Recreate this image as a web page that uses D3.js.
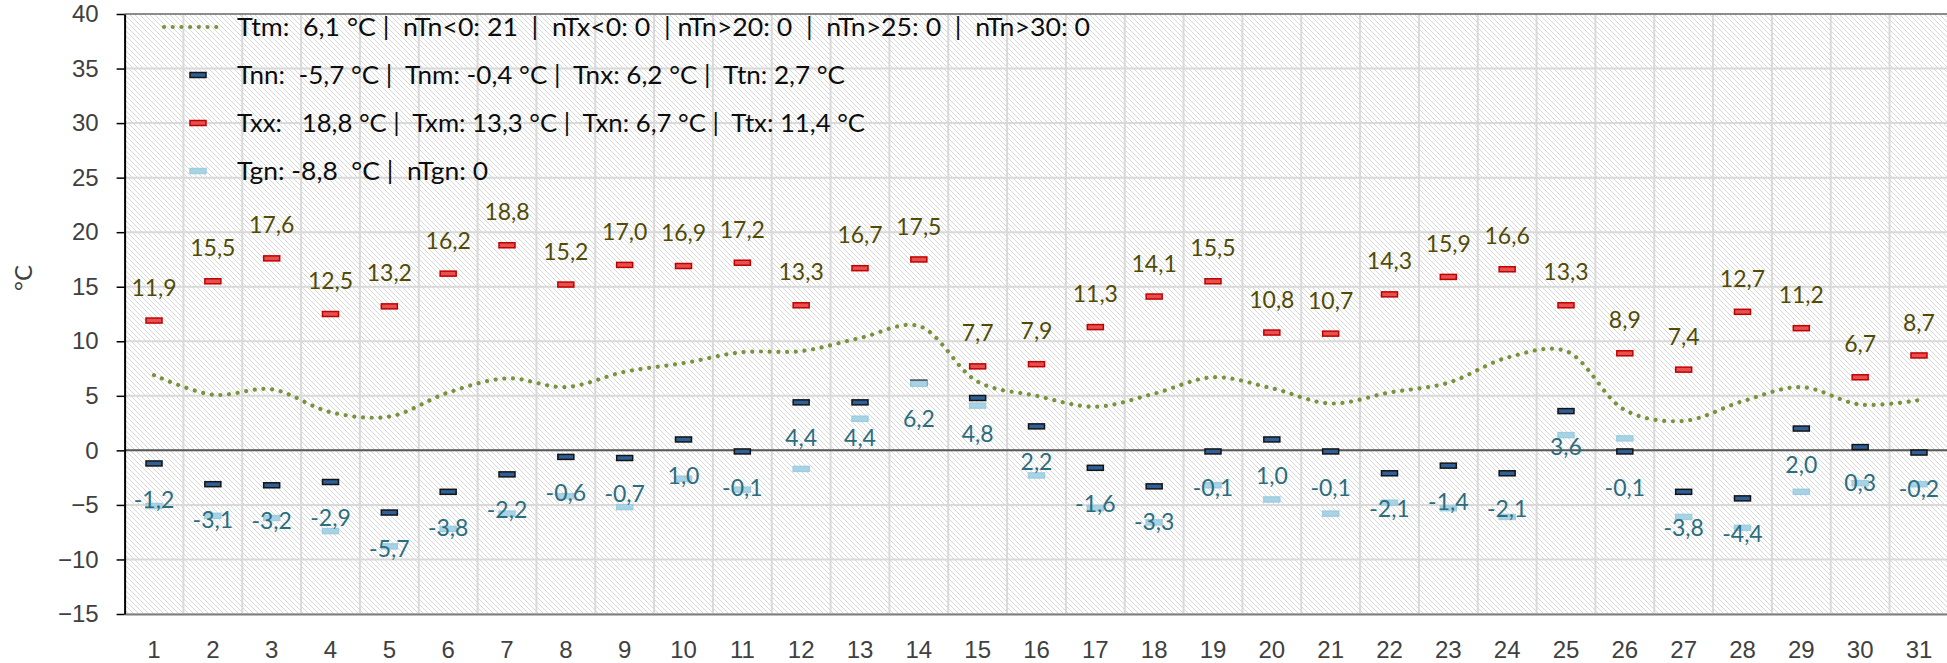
<!DOCTYPE html>
<html>
<head>
<meta charset="utf-8">
<script src="https://cdn.jsdelivr.net/npm/d3@7/dist/d3.min.js"></script>
<style>
  body { margin: 0; background: #fff; }
  svg { display: block; font-family: Lato, "Open Sans", sans-serif; }
</style>
</head>
<body>
<div id="chart"></div>
<script>
// ── Data ───────────────────────────────────────────────────────────────────
const days = [1, 2, 3, 4, 5, 6, 7, 8, 9, 10, 11, 12, 13, 14, 15, 16,
  17, 18, 19, 20, 21, 22, 23, 24, 25, 26, 27, 28, 29, 30, 31];

const tMax = [11.9, 15.5, 17.6, 12.5, 13.2, 16.2, 18.8, 15.2, 17.0, 16.9, 17.2,
  13.3, 16.7, 17.5, 7.7, 7.9, 11.3, 14.1, 15.5, 10.8, 10.7, 14.3, 15.9, 16.6,
  13.3, 8.9, 7.4, 12.7, 11.2, 6.7, 8.7];

const tMin = [-1.2, -3.1, -3.2, -2.9, -5.7, -3.8, -2.2, -0.6, -0.7, 1.0, -0.1,
  4.4, 4.4, 6.2, 4.8, 2.2, -1.6, -3.3, -0.1, 1.0, -0.1, -2.1, -1.4, -2.1,
  3.6, -0.1, -3.8, -4.4, 2.0, 0.3, -0.2];

const tMean = [6.9, 5.1, 5.6, 3.5, 3.1, 5.3, 6.6, 5.8, 7.2, 8.0, 9.0, 9.1,
  10.3, 11.4, 6.3, 5.0, 4.0, 5.2, 6.7, 5.7, 4.3, 5.3, 6.2, 8.5, 9.1, 3.7,
  2.7, 4.5, 5.8, 4.2, 4.6];

const tGround = [-5.1, -6.0, -6.2, -7.4, -8.8, -7.2, -5.8, -4.2, -5.2, -2.6,
  -3.6, -1.7, 2.9, 6.1, 4.1, -2.3, -5.3, -6.6, -3.2, -4.5, -5.8, -4.8, -5.3,
  -6.1, 1.4, 1.1, -6.1, -7.1, -3.8, -3.0, -3.1];

const yTicks = [-15, -10, -5, 0, 5, 10, 15, 20, 25, 30, 35, 40];

const legendTexts = [
  "Ttm:  6,1 °C |  nTn<0: 21  |  nTx<0: 0  | nTn>20: 0  |  nTn>25: 0  |  nTn>30: 0",
  "Tnn:  -5,7 °C |  Tnm: -0,4 °C |  Tnx: 6,2 °C |  Ttn: 2,7 °C",
  "Txx:   18,8 °C |  Txm: 13,3 °C |  Txn: 6,7 °C |  Ttx: 11,4 °C",
  "Tgn: -8,8  °C |  nTgn: 0",
];
const legendWidths = [853, 608, 628, 251];

const fmt = (v) => v.toFixed(1).replace(".", ",");

// ── Dimensions ─────────────────────────────────────────────────────────────
const width = 1947;
const height = 663;
const plot = { left: 124.6, right: 1948.4, top: 14, bottom: 614 };

const svg = d3.select("#chart")
  .append("svg")
  .attr("width", width)
  .attr("height", height);

// ── Scales ─────────────────────────────────────────────────────────────────
const xScale = d3.scaleBand().domain(days).range([plot.left, plot.right]).padding(0);
const yScale = d3.scaleLinear().domain([-15, 40]).range([plot.bottom, plot.top]);
const cx = (d) => xScale(d) + xScale.bandwidth() / 2;

// ── Hatched background ─────────────────────────────────────────────────────
const defs = svg.append("defs");
const pat = defs.append("pattern")
  .attr("id", "hatch")
  .attr("patternUnits", "userSpaceOnUse")
  .attr("width", 5)
  .attr("height", 5);
pat.append("rect").attr("width", 5).attr("height", 5).attr("fill", "#fff");
pat.append("path")
  .attr("d", "M-1,-1 L6,6 M-1,4 L1,6 M4,-1 L6,1")
  .attr("stroke", "#d8d8d8")
  .attr("stroke-width", 1);

svg.append("rect")
  .attr("x", plot.left)
  .attr("y", plot.top)
  .attr("width", plot.right - plot.left)
  .attr("height", plot.bottom - plot.top)
  .attr("fill", "url(#hatch)");

// ── Grid Lines ─────────────────────────────────────────────────────────────
svg.append("g")
  .selectAll("line")
  .data(yTicks)
  .join("line")
  .attr("x1", plot.left)
  .attr("x2", plot.right)
  .attr("y1", (d) => yScale(d))
  .attr("y2", (d) => yScale(d))
  .attr("stroke", "#d9d9d9")
  .attr("stroke-width", 2);

svg.append("g")
  .selectAll("line")
  .data(days.slice(1))
  .join("line")
  .attr("x1", (d) => xScale(d))
  .attr("x2", (d) => xScale(d))
  .attr("y1", plot.top)
  .attr("y2", plot.bottom)
  .attr("stroke", "#d9d9d9")
  .attr("stroke-width", 2);

// top border
svg.append("line")
  .attr("x1", plot.left).attr("x2", plot.right)
  .attr("y1", plot.top).attr("y2", plot.top)
  .attr("stroke", "#8c8c8c").attr("stroke-width", 2);

// zero line
svg.append("line")
  .attr("x1", plot.left).attr("x2", plot.right)
  .attr("y1", yScale(0)).attr("y2", yScale(0))
  .attr("stroke", "#595959").attr("stroke-width", 2);

// ── Axes ───────────────────────────────────────────────────────────────────
const xAxis = svg.append("g")
  .attr("transform", `translate(0,${plot.bottom})`)
  .call(d3.axisBottom(xScale).tickSize(0).tickSizeOuter(0));
xAxis.select(".domain").attr("stroke", "#7f7f7f").attr("stroke-width", 2);
xAxis.selectAll("text")
  .attr("y", 36)
  .attr("dy", "0.35em")
  .attr("fill", "#404040")
  .style("font-size", "24px");

const yAxis = svg.append("g")
  .attr("transform", `translate(${plot.left},0)`)
  .call(d3.axisLeft(yScale).tickValues(yTicks).tickSize(8).tickSizeOuter(0).tickPadding(18));
yAxis.select(".domain").attr("stroke", "#000").attr("stroke-width", 2);
yAxis.selectAll(".tick line").attr("stroke", "#000").attr("stroke-width", 1.5);
yAxis.selectAll("text")
  .attr("fill", "#404040")
  .style("font-size", "24px");

svg.append("text")
  .attr("transform", `translate(24,278) rotate(-90)`)
  .attr("text-anchor", "middle")
  .attr("dy", "0.35em")
  .attr("fill", "#404040")
  .style("font-size", "24px")
  .text("°C");

// ── Mean line ──────────────────────────────────────────────────────────────
const line = d3.line()
  .x((d, i) => cx(days[i]))
  .y((d) => yScale(d))
  .curve(d3.curveCatmullRom.alpha(0.5));

svg.append("path")
  .datum(tMean)
  .attr("d", line)
  .attr("fill", "none")
  .attr("stroke", "#77933c")
  .attr("stroke-width", 4.2)
  .attr("stroke-linecap", "round")
  .attr("stroke-dasharray", "0.01 8.7");

// ── Markers ────────────────────────────────────────────────────────────────
const mw = 16, mh = 5;
function dashMarkers(values, fill, stroke) {
  svg.append("g")
    .selectAll("rect")
    .data(values)
    .join("rect")
    .attr("x", (d, i) => cx(days[i]) - mw / 2)
    .attr("y", (d) => yScale(d) - mh / 2)
    .attr("width", mw)
    .attr("height", mh)
    .attr("fill", fill)
    .attr("stroke", stroke)
    .attr("stroke-width", 1.5);
}
dashMarkers(tMax, "#e85050", "#c00000");
dashMarkers(tMin, "#2e5f96", "#141414");
dashMarkers(tGround, "#a9d3e4", "#9dcde0");

// ── Data labels ────────────────────────────────────────────────────────────
svg.append("g")
  .selectAll("text")
  .data(tMax)
  .join("text")
  .attr("x", (d, i) => cx(days[i]))
  .attr("y", (d) => yScale(d) - 33)
  .attr("dy", "0.35em")
  .attr("text-anchor", "middle")
  .attr("fill", "#514b06")
  .style("font-size", "23px")
  .text(fmt);

svg.append("g")
  .selectAll("text")
  .data(tMin)
  .join("text")
  .attr("x", (d, i) => cx(days[i]))
  .attr("y", (d) => yScale(d) + 36)
  .attr("dy", "0.35em")
  .attr("text-anchor", "middle")
  .attr("fill", "#2b6d7f")
  .style("font-size", "23px")
  .text(fmt);

// ── Legend ─────────────────────────────────────────────────────────────────
const legendY = [27, 75, 123, 171];
const legend = svg.append("g");

legend.append("line")
  .attr("x1", 164).attr("x2", 222)
  .attr("y1", legendY[0]).attr("y2", legendY[0])
  .attr("stroke", "#77933c")
  .attr("stroke-width", 4.2)
  .attr("stroke-linecap", "round")
  .attr("stroke-dasharray", "0.01 8.7");

const legendMarks = [null, ["#2e5f96", "#141414"], ["#e85050", "#c00000"], ["#a9d3e4", "#9dcde0"]];
legendMarks.forEach((m, i) => {
  if (!m) return;
  legend.append("rect")
    .attr("x", 198 - mw / 2)
    .attr("y", legendY[i] - mh / 2)
    .attr("width", mw)
    .attr("height", mh)
    .attr("fill", m[0])
    .attr("stroke", m[1])
    .attr("stroke-width", 1.5);
});

legend.selectAll(".legend-label")
  .data(legendTexts)
  .join("text")
  .attr("class", "legend-label")
  .attr("x", 237)
  .attr("y", (d, i) => legendY[i])
  .attr("dy", "0.35em")
  .attr("fill", "#0d0d0d")
  .attr("textLength", (d, i) => legendWidths[i])
  .attr("lengthAdjust", "spacingAndGlyphs")
  .style("white-space", "pre")
  .style("font-size", "25px")
  .text((d) => d);
</script>
</body>
</html>
